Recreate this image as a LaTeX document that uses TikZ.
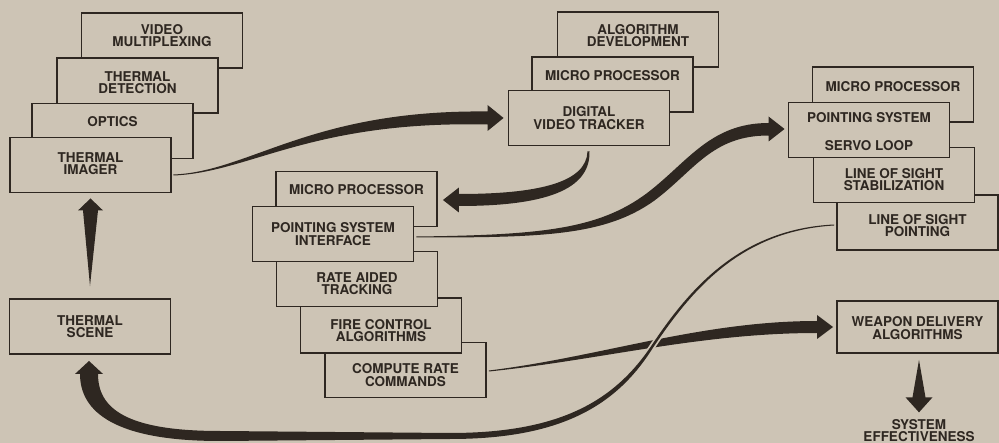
\documentclass[tikz,border=0pt]{standalone}
\usepackage{fontspec}
\setmainfont{TeX Gyre Heros}
\usetikzlibrary{calc}
\definecolor{paper}{RGB}{205,196,181}
\definecolor{ink}{RGB}{46,39,33}

\begin{document}
\begin{tikzpicture}[x=1pt, y=-1pt,
  box/.style={draw=ink, line width=1.9pt, fill=paper, minimum width=161pt, minimum height=55pt, inner sep=0pt},
  txt/.style={text=ink, align=center, inner sep=0pt, font=\fontsize{13.5}{12.3}\selectfont\bfseries}]
  % paper
  \fill[paper] (0,0) rectangle (999,443);
  \useasboundingbox (0,0) rectangle (999,443);
  % thermal imager stack
  \node[box, label={[txt,yshift=5]center:VIDEO\\MULTIPLEXING}] (vm) at (162,40.5) {};
  \node[box, label={[txt,yshift=3]center:THERMAL\\DETECTION}] (td) at (137.5,85.5) {};
  \node[box, label={[txt,yshift=9.5]center:OPTICS}] (op) at (112.5,131) {};
  \node[box, label={[txt,yshift=1]center:THERMAL\\IMAGER}] (ti) at (90.5,165) {};
  \node[box, label={[txt]center:THERMAL\\SCENE}] (ts) at (90,326.5) {};
  % tracker stack
  \node[box, label={[txt,yshift=4]center:ALGORITHM\\DEVELOPMENT}] (ad) at (638,39.5) {};
  \node[box, label={[txt,yshift=9]center:MICRO PROCESSOR}] (mpa) at (612.5,84.5) {};
  \node[box, label={[txt]center:DIGITAL\\VIDEO TRACKER}] (dvt) at (589,118) {};
  % interface stack
  \node[box, label={[txt,yshift=-5]center:COMPUTE RATE\\COMMANDS}] (crc) at (405.5,370) {};
  \node[box, label={[txt,yshift=-5]center:FIRE CONTROL\\ALGORITHMS}] (fca) at (381,325.5) {};
  \node[box, label={[txt,yshift=-4.5]center:RATE AIDED\\TRACKING}] (rat) at (357,279) {};
  \node[box, label={[txt,yshift=9.5]center:MICRO PROCESSOR}] (mpb) at (356.5,199) {};
  \node[box, label={[txt]center:POINTING SYSTEM\\INTERFACE}] (psi) at (333,234) {};
  % pointing system stack
  \node[box, label={[txt,yshift=-3]center:LINE OF SIGHT\\POINTING}] (lsp) at (917.5,222.5) {};
  \node[box, label={[txt,yshift=-4.5]center:LINE OF SIGHT\\STABILIZATION}] (lss) at (894,175) {};
  \node[box, label={[txt,yshift=8]center:MICRO PROCESSOR}] (mpc) at (893,94.5) {};
  \node[box, label={[txt,yshift=-1.5]center:POINTING SYSTEM\\[15pt]SERVO LOOP}] (pss) at (869,130) {};
  \node[box, minimum height=52pt, label={[txt,yshift=-1]center:WEAPON DELIVERY\\ALGORITHMS}] (wda) at (917.5,327) {};
  \node[txt] (sye) at (919,430.6) {SYSTEM\\EFFECTIVENESS};

  % scene to imager
  \coordinate (tup) at ($(ti.south)+(0,5)$);
  \fill[ink] ($(ts.north)+(0,-12)$) -- ($(tup)+(7.5,12)$) -- ($(tup)+(12.5,12)$) -- (tup)
    -- ($(tup)+(-12.5,12)$) -- ($(tup)+(-7.5,12)$) -- cycle;
  % imager to tracker
  \coordinate (s1) at ($(ti.east)+(1.5,10)$);
  \coordinate (t1) at ($(dvt.west)+(-4,0)$);
  \fill[ink] ($(s1)+(0,-0.5)$) .. controls (250,171.5) and (310,109.5) .. ($(t1)+(-16,-6.5)$)
    -- ($(t1)+(-16,-13)$) -- (t1) -- ($(t1)+(-16,13)$) -- ($(t1)+(-16,6.5)$)
    .. controls (310,120.5) and (250,172.5) .. ($(s1)+(0,0.5)$) -- cycle;
  % tracker to micro processor
  \coordinate (s2) at ($(dvt.south)+(-1,5)$);
  \coordinate (t2) at ($(mpb.east)+(5,1)$);
  \fill[ink] ($(s2)+(1.5,0)$) .. controls (590.5,190) and (545,206) .. ($(t2)+(16,6)$)
    -- ($(t2)+(16,12.5)$) -- (t2) -- ($(t2)+(16,-12.5)$) -- ($(t2)+(16,-6)$)
    .. controls (540,194) and (586.5,182) .. ($(s2)+(-0.5,0)$) -- cycle;
  % interface to pointing system
  \coordinate (s3) at ($(psi.east)+(2,3)$);
  \coordinate (t3) at ($(pss.west)+(-3,-1)$);
  \fill[ink] ($(s3)+(0,-0.5)$) .. controls (540,235) and (598,229.5) .. (646.5,193.5)
    .. controls (687.5,162.5) and (710,123) .. ($(t3)+(-16,-6)$)
    -- ($(t3)+(-16,-12.5)$) -- (t3) -- ($(t3)+(-16,12.5)$) -- ($(t3)+(-16,6.5)$)
    .. controls (712,135.5) and (694.5,170.5) .. (654.5,200.5)
    .. controls (604.5,236.5) and (540,237.5) .. ($(s3)+(0,0.5)$) -- cycle;
  % compute rate to weapon delivery
  \coordinate (s4) at ($(crc.east)+(2,1)$);
  \coordinate (t4) at ($(wda.west)+(-3,0)$);
  \fill[ink] ($(s4)+(0,-0.5)$) .. controls (600,357) and (700,321) .. ($(t4)+(-16,-6)$)
    -- ($(t4)+(-16,-12)$) -- (t4) -- ($(t4)+(-16,12)$) -- ($(t4)+(-16,6)$)
    .. controls (700,333) and (600,360) .. ($(s4)+(0,0.5)$) -- cycle;
  % line of sight back to scene
  \coordinate (s5) at ($(lsp.west)+(-2,2.5)$);
  \coordinate (t5) at ($(ts.south)+(-1,6)$);
  \draw[paper, line width=6pt] (s5) .. controls (740,230) and (690,290) .. (652,347)
    .. controls (615,403) and (560,436) .. (450,436);
  \fill[ink] ($(s5)+(0,-0.5)$) .. controls (740,229) and (689,289) .. (651,346.3)
    .. controls (614,401) and (560,433) .. (450,433) -- (220,431)
    .. controls (125,431) and (98,408) .. ($(t5)+(9,13)$)
    -- ($(t5)+(14,13)$) -- (t5) -- ($(t5)+(-14,13)$) -- ($(t5)+(-9,13)$)
    .. controls (80,412) and (115,441) .. (220,441) -- (450,439)
    .. controls (562,439) and (617,405) .. (653,347.7)
    .. controls (691,291) and (740,231) .. ($(s5)+(0,0.5)$) -- cycle;
  % weapon delivery to effectiveness
  \coordinate (t7) at ($(sye.north)+(0,-6.8)$);
  \fill[ink] ($(wda.south)+(1.5,6)$) -- ($(t7)+(6.5,-15)$) -- ($(t7)+(13.5,-15)$) -- (t7)
    -- ($(t7)+(-13.5,-15)$) -- ($(t7)+(-6.5,-15)$) -- cycle;
\end{tikzpicture}
\end{document}
